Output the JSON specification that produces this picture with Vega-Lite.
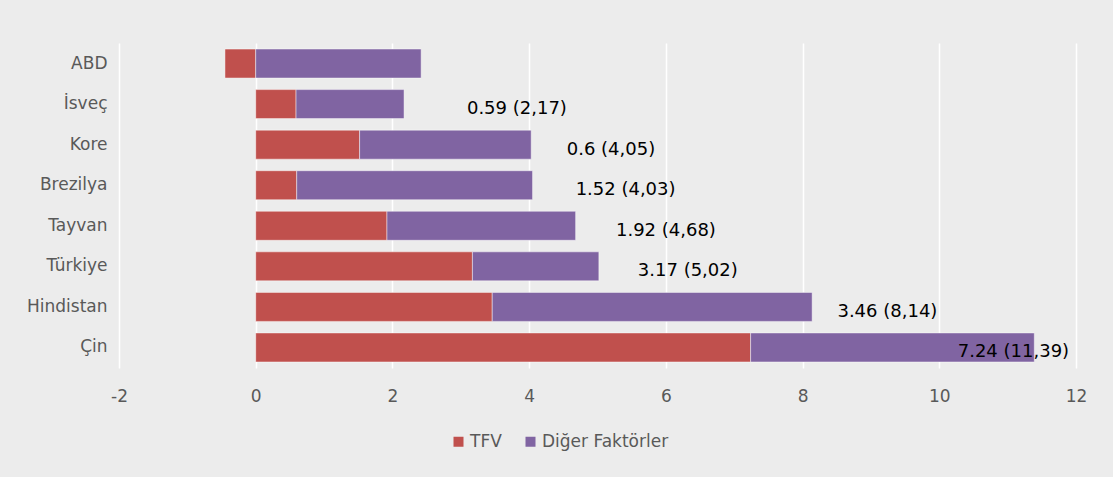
{
  "$schema": "https://vega.github.io/schema/vega-lite/v6.json",
  "autosize": {"type": "none"},
  "width": 957,
  "height": 325,
  "padding": {"left": 119, "top": 43, "right": 37, "bottom": 109},
  "background": "#ececec",
  "config": {
    "view": {"stroke": null, "fill": "#ececec"},
    "font": "DejaVu Sans",
    "axis": {"labelFont": "DejaVu Sans", "labelColor": "#595959", "labelFontSize": 17, "domain": false, "ticks": false, "title": null},
    "legend": {"labelFont": "DejaVu Sans", "labelColor": "#595959", "labelFontSize": 17}
  },
  "datasets": {
    "bars": [
      {"ulke": "ABD", "faktor": "TFV", "deger": -0.45, "sira": 1},
      {"ulke": "ABD", "faktor": "Diğer Faktörler", "deger": 2.42, "sira": 2},
      {"ulke": "İsveç", "faktor": "TFV", "deger": 0.59, "sira": 1},
      {"ulke": "İsveç", "faktor": "Diğer Faktörler", "deger": 1.58, "sira": 2},
      {"ulke": "Kore", "faktor": "TFV", "deger": 1.52, "sira": 1},
      {"ulke": "Kore", "faktor": "Diğer Faktörler", "deger": 2.51, "sira": 2},
      {"ulke": "Brezilya", "faktor": "TFV", "deger": 0.6, "sira": 1},
      {"ulke": "Brezilya", "faktor": "Diğer Faktörler", "deger": 3.45, "sira": 2},
      {"ulke": "Tayvan", "faktor": "TFV", "deger": 1.92, "sira": 1},
      {"ulke": "Tayvan", "faktor": "Diğer Faktörler", "deger": 2.76, "sira": 2},
      {"ulke": "Türkiye", "faktor": "TFV", "deger": 3.17, "sira": 1},
      {"ulke": "Türkiye", "faktor": "Diğer Faktörler", "deger": 1.85, "sira": 2},
      {"ulke": "Hindistan", "faktor": "TFV", "deger": 3.46, "sira": 1},
      {"ulke": "Hindistan", "faktor": "Diğer Faktörler", "deger": 4.68, "sira": 2},
      {"ulke": "Çin", "faktor": "TFV", "deger": 7.24, "sira": 1},
      {"ulke": "Çin", "faktor": "Diğer Faktörler", "deger": 4.15, "sira": 2}
    ],
    "etiketler": [
      {"ulke": "İsveç", "etiket": "0.59 (2,17)", "konum": 3.09},
      {"ulke": "Kore", "etiket": "0.6 (4,05)", "konum": 4.55},
      {"ulke": "Brezilya", "etiket": "1.52 (4,03)", "konum": 4.68},
      {"ulke": "Tayvan", "etiket": "1.92 (4,68)", "konum": 5.27},
      {"ulke": "Türkiye", "etiket": "3.17 (5,02)", "konum": 5.59},
      {"ulke": "Hindistan", "etiket": "3.46 (8,14)", "konum": 8.51},
      {"ulke": "Çin", "etiket": "7.24 (11,39)", "konum": 10.27}
    ]
  },
  "layer": [
    {
      "data": {"name": "bars"},
      "mark": {"type": "bar", "stroke": "#ffffff", "strokeWidth": 1, "strokeOpacity": 0.45},
      "encoding": {
        "y": {
          "field": "ulke", "type": "nominal",
          "sort": ["ABD", "İsveç", "Kore", "Brezilya", "Tayvan", "Türkiye", "Hindistan", "Çin"],
          "scale": {"paddingInner": 0.285, "paddingOuter": 0.149},
          "axis": {"labelPadding": 12, "grid": false}
        },
        "x": {
          "field": "deger", "type": "quantitative", "stack": "zero",
          "scale": {"domain": [-2, 12], "nice": false},
          "axis": {"values": [-2, 0, 2, 4, 6, 8, 10, 12], "labelExpr": "'' + datum.value", "labelFlush": false, "grid": true, "gridColor": "#ffffff", "gridWidth": 1.5, "gridOpacity": 1, "labelPadding": 20}
        },
        "color": {
          "field": "faktor", "type": "nominal",
          "scale": {"domain": ["TFV", "Diğer Faktörler"], "range": ["#c0504d", "#8064a2"]},
          "legend": {"title": null, "orient": "none", "legendX": 331, "legendY": 390, "direction": "horizontal", "symbolType": "square", "symbolSize": 100, "symbolStrokeWidth": 0, "labelOffset": 3, "columnPadding": 20}
        },
        "order": {"field": "sira", "type": "quantitative"}
      }
    },
    {
      "data": {"name": "etiketler"},
      "mark": {"type": "text", "align": "left", "baseline": "middle", "fontSize": 18, "color": "#000000", "dy": 5},
      "encoding": {
        "y": {"field": "ulke", "type": "nominal", "sort": ["ABD", "İsveç", "Kore", "Brezilya", "Tayvan", "Türkiye", "Hindistan", "Çin"]},
        "x": {"field": "konum", "type": "quantitative"},
        "text": {"field": "etiket"}
      }
    }
  ]
}
